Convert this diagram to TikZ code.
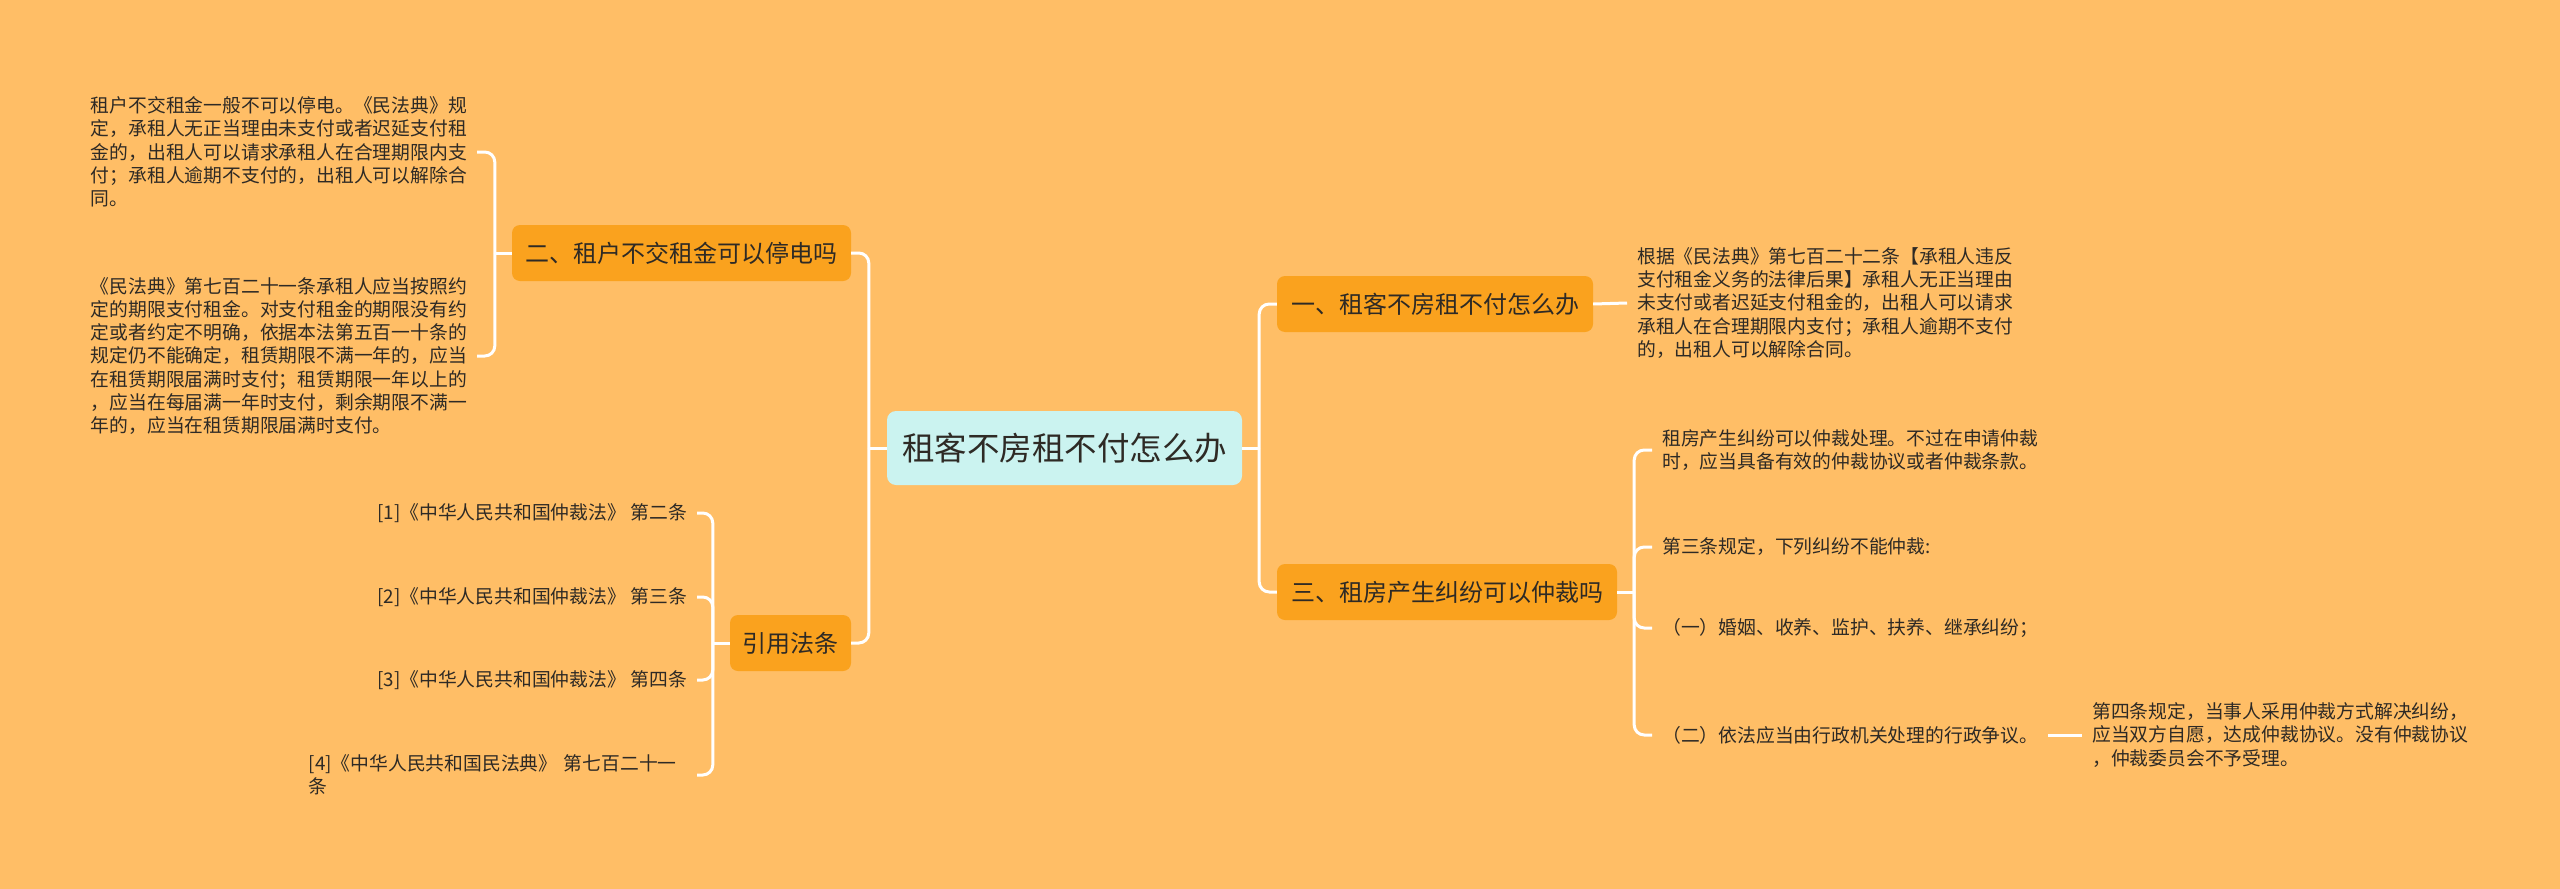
\documentclass[tikz,border=0pt]{standalone}
\usepackage{fontspec}
\setmainfont{Noto Sans CJK SC}
\definecolor{bg}{HTML}{FFBE66}
\definecolor{nodeor}{HTML}{FAA21E}
\definecolor{rootc}{HTML}{CBF3F0}
\definecolor{txt}{HTML}{2E2A25}
\begin{document}
\begin{tikzpicture}[x=1pt,y=-1pt,
  conn/.style={draw=white, line width=3pt, rounded corners=10pt},
  topic/.style={fill=nodeor, rounded corners=8pt, text=txt, inner sep=0pt,
    font=\fontsize{24}{28}\selectfont, minimum height=56pt},
  rootbox/.style={fill=rootc, rounded corners=9pt, text=txt, inner sep=0pt,
    font=\fontsize{32.5}{38}\selectfont, minimum height=74pt, minimum width=355pt},
  leaf/.style={text=txt, align=left, inner xsep=10pt, inner ysep=0pt,
    font=\fontsize{18.8}{23.3}\selectfont}]
\fill[bg] (0,0) rectangle (2560,889);
\useasboundingbox (0,0) rectangle (2560,889);

% main topics
\node[rootbox] (root) at (1064.5,448) {租客不房租不付怎么办};
\node[topic, minimum width=316pt] (n1) at (1435,304) {一、租客不房租不付怎么办};
\node[topic, minimum width=339pt] (n2) at (681.5,253) {二、租户不交租金可以停电吗};
\node[topic, minimum width=340pt] (n3) at (1447,592) {三、租房产生纠纷可以仲裁吗};
\node[topic, minimum width=121pt] (ref) at (790.5,643) {引用法条};

% left leaves of n2
\node[leaf, anchor=east] (l1) at (477,152) {租户不交租金一般不可以停电。《民法典》规\\定，承租人无正当理由未支付或者迟延支付租\\金的，出租人可以请求承租人在合理期限内支\\付；承租人逾期不支付的，出租人可以解除合\\同。};
\node[leaf, anchor=east] (l2) at (477,356) {《民法典》第七百二十一条承租人应当按照约\\定的期限支付租金。对支付租金的期限没有约\\定或者约定不明确，依据本法第五百一十条的\\规定仍不能确定，租赁期限不满一年的，应当\\在租赁期限届满时支付；租赁期限一年以上的\\，应当在每届满一年时支付，剩余期限不满一\\年的，应当在租赁期限届满时支付。};

% citations
\node[leaf, anchor=east] (c1) at (697,513) {[1]《中华人民共和国仲裁法》 第二条};
\node[leaf, anchor=east] (c2) at (697,597) {[2]《中华人民共和国仲裁法》 第三条};
\node[leaf, anchor=east] (c3) at (697,680) {[3]《中华人民共和国仲裁法》 第四条};
\node[leaf, anchor=east, text width=378pt] (c4) at (697,775) {[4]《中华人民共和国民法典》 第七百二十一\\条};

% right leaves
\node[leaf, anchor=west] (r1) at (1627,303) {根据《民法典》第七百二十二条【承租人违反\\支付租金义务的法律后果】承租人无正当理由\\未支付或者迟延支付租金的，出租人可以请求\\承租人在合理期限内支付；承租人逾期不支付\\的，出租人可以解除合同。};
\node[leaf, anchor=west] (s1) at (1652,450) {租房产生纠纷可以仲裁处理。不过在申请仲裁\\时，应当具备有效的仲裁协议或者仲裁条款。};
\node[leaf, anchor=west] (s2) at (1652,547) {第三条规定，下列纠纷不能仲裁:};
\node[leaf, anchor=west] (s3) at (1652,628) {（一）婚姻、收养、监护、扶养、继承纠纷；};
\node[leaf, anchor=west] (s4) at (1652,735) {（二）依法应当由行政机关处理的行政争议。};
\node[leaf, anchor=west] (s5) at (2082,735) {第四条规定，当事人采用仲裁方式解决纠纷，\\应当双方自愿，达成仲裁协议。没有仲裁协议\\，仲裁委员会不予受理。};

% connectors: root left
\draw[conn] (root.west) -- ++(-18,0) coordinate (jL);
\draw[conn] (jL) |- (n2.east);
\draw[conn] (jL) |- (ref.east);
% root right
\draw[conn] (root.east) -- ++(17,0) coordinate (jR);
\draw[conn] (jR) |- (n1.west);
\draw[conn] (jR) |- (n3.west);
% n2 leaves
\draw[conn] (n2.west) -- ++(-17,0) coordinate (j2);
\draw[conn] (j2) |- (l1.east);
\draw[conn] (j2) |- (l2.east);
% citations
\draw[conn] (ref.west) -- ++(-17,0) coordinate (j3);
\draw[conn] (j3) |- (c1.east);
\draw[conn] (j3) |- (c2.east);
\draw[conn] (j3) |- (c3.east);
\draw[conn] (j3) |- (c4.east);
% n1 leaf
\draw[conn] (n1.east) -- (r1.west);
% n3 leaves
\draw[conn] (n3.east) -- ++(17,0) coordinate (j4);
\draw[conn] (j4) |- (s1.west);
\draw[conn] (j4) |- (s2.west);
\draw[conn] (j4) |- (s3.west);
\draw[conn] (j4) |- (s4.west);
\draw[conn] (s4.east) -- (s5.west);
\end{tikzpicture}
\end{document}
